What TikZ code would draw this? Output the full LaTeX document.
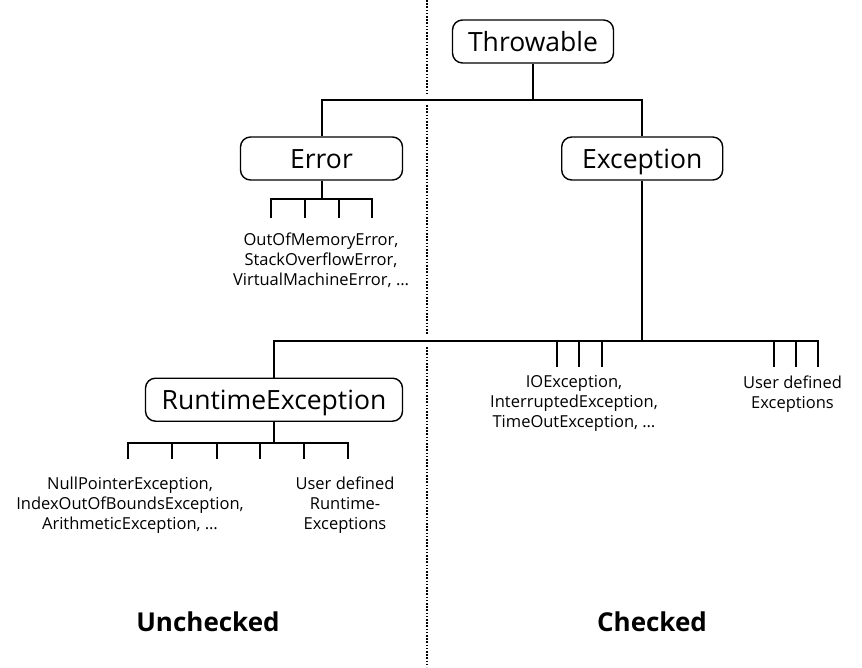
\documentclass[tikz,border=0pt]{standalone}
\usepackage{fontspec}
\setmainfont{Open Sans}
\begin{document}
\begin{tikzpicture}[x=1pt,y=-1pt,
  box/.style={draw, rounded corners=10pt, line width=1.4pt, minimum height=43pt, inner sep=0pt, text height=19pt, text depth=0pt, font=\fontsize{26.5}{30}\selectfont},
  conn/.style={line width=2pt},
  sep/.style={line width=1.4pt, dash pattern=on 1.6pt off 1.6pt},
  lbl/.style={align=center, inner sep=0pt, font=\fontsize{16.5}{20}\selectfont},
  side/.style={inner sep=0pt, font=\fontsize{26}{30}\selectfont\bfseries}]
\useasboundingbox (0,0) rectangle (862,667);
% separator
\draw[sep] (427,0) -- (427,95);
\draw[sep] (427,105) -- (427,335);
\draw[sep] (427,347) -- (427,667);
% boxes
\node[box, minimum width=161pt] (thr) at (533,41.5) {Throwable};
\node[box, minimum width=162pt] (err) at (321.5,158.5) {Error};
\node[box, minimum width=161pt] (exc) at (642.2,158.5) {Exception};
\node[box, minimum width=257pt] (rte) at (274,399.7) {RuntimeException};
% Throwable -> Error, Exception
\coordinate (tj) at (533,99.5);
\draw[conn] (thr.south) -- (tj);
\draw[conn] (err.north) |- (tj) -| (exc.north);
% Error children
\coordinate (ej) at (321.5,199.3);
\draw[conn] (err.south) -- (ej);
\foreach \n/\x in {e1/271,e2/305,e3/338.5,e4/372.3}{\coordinate (\n) at (\x,218.3);}
\draw[conn] (e1) -- (e1 |- ej) -- (e4 |- ej) -- (e4);
\draw[conn] (e2 |- ej) -- (e2);
\draw[conn] (e3 |- ej) -- (e3);
% Exception children
\coordinate (xj) at (642.2,341);
\draw[conn] (exc.south) -- (xj);
\foreach \n/\x in {c1/556.7,c2/579,c3/601.7,u1/773.7,u2/796,u3/818.3}{\coordinate (\n) at (\x,366.7);}
\draw[conn] (rte.north) |- (xj) -- (u3 |- xj) -- (u3);
\foreach \n in {c1,c2,c3,u1,u2}{\draw[conn] (\n |- xj) -- (\n);}
% RuntimeException children
\coordinate (rj) at (274,442.7);
\draw[conn] (rte.south) -- (rj);
\foreach \n/\x in {r1/128.3,r2/172.3,r3/216.7,r4/260,r5/304,r6/348.3}{\coordinate (\n) at (\x,459.3);}
\draw[conn] (r1) -- (r1 |- rj) -- (r6 |- rj) -- (r6);
\foreach \n in {r2,r3,r4,r5}{\draw[conn] (\n |- rj) -- (\n);}
% labels
\node[lbl, anchor=north] (errl) at (321,233) {OutOfMemoryError,\\StackOverflowError,\\VirtualMachineError, \dots};
\node[lbl, anchor=north] (rtl) at (130,477) {NullPointerException,\\IndexOutOfBoundsException,\\ArithmeticException, \dots};
\node[lbl, anchor=north] (rtu) at (345,477) {User defined\\Runtime-\\Exceptions};
\node[lbl, anchor=north] (chl) at (574,375.5) {IOException,\\InterruptedException,\\TimeOutException, \dots};
\node[lbl, anchor=north] (chu) at (792.5,375.5) {User defined\\Exceptions};
\node[side] (unch) at (208,622) {Unchecked};
\node[side] (chk) at (652,622) {Checked};
\end{tikzpicture}
\end{document}
